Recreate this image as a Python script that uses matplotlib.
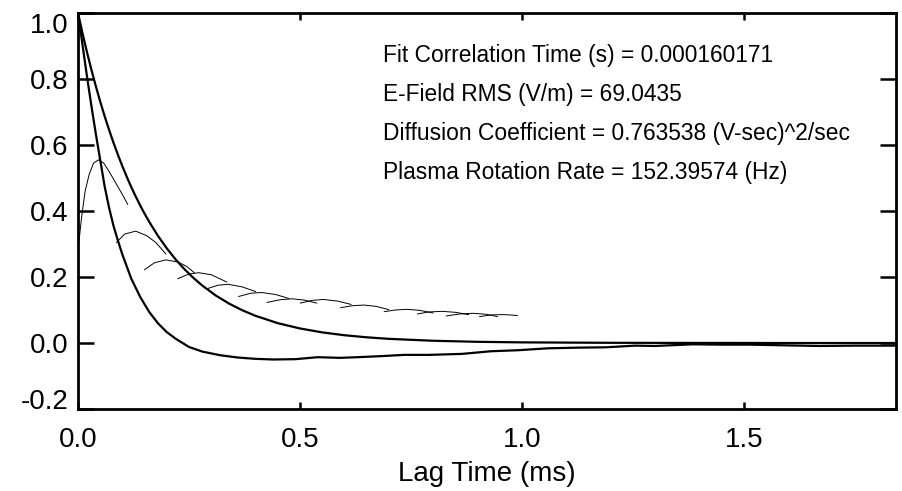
import matplotlib
matplotlib.use("Agg")
import matplotlib.pyplot as plt
from matplotlib.ticker import FixedLocator, FormatStrFormatter

plt.rcParams['font.family'] = ['Liberation Sans', 'DejaVu Sans']
plt.rcParams['axes.unicode_minus'] = False

# ---- data ----
# fitted exponential (thick upper curve)
fit_t = [0.0, 0.01, 0.02, 0.03, 0.04, 0.05, 0.06, 0.07, 0.08, 0.09, 0.10, 0.11, 0.12, 0.13, 0.14,
         0.15, 0.16, 0.18, 0.20, 0.22, 0.24, 0.26, 0.28, 0.31, 0.34, 0.37, 0.40, 0.45, 0.50,
         0.55, 0.60, 0.65, 0.70, 0.80, 0.90, 1.00, 1.20, 1.40, 1.60, 1.843]
fit_y = [1.0, 0.9394, 0.8826, 0.8291, 0.7790, 0.7318, 0.6875, 0.6459, 0.6068, 0.5700, 0.5356,
         0.5031, 0.4727, 0.4441, 0.4172, 0.3919, 0.3682, 0.3250, 0.2869, 0.2532, 0.2235,
         0.1973, 0.1741, 0.1443, 0.1197, 0.0993, 0.0823, 0.0602, 0.0441, 0.0322, 0.0236,
         0.0173, 0.0126, 0.0068, 0.0036, 0.0019, 0.0006, 0.0002, 0.0000, 0.0000]

# measured autocorrelation (thick lower curve)
acf_t = [0.0, 0.01, 0.02, 0.03, 0.04, 0.05, 0.06, 0.07, 0.08, 0.09, 0.10, 0.12, 0.14, 0.16,
         0.18, 0.20, 0.22, 0.25, 0.28, 0.32, 0.36, 0.40, 0.44, 0.49, 0.54, 0.59, 0.63, 0.68,
         0.735, 0.79, 0.865, 0.93, 0.99, 1.06, 1.13, 1.19, 1.255, 1.30, 1.385, 1.45, 1.515,
         1.59, 1.67, 1.75, 1.843]
acf_y = [1.0, 0.905, 0.81, 0.72, 0.635, 0.555, 0.475, 0.41, 0.355, 0.31, 0.268, 0.195, 0.14,
         0.095, 0.06, 0.033, 0.013, -0.012, -0.026, -0.037, -0.044, -0.048, -0.050, -0.049,
         -0.043, -0.045, -0.043, -0.040, -0.036, -0.036, -0.033, -0.025, -0.022, -0.016,
         -0.014, -0.013, -0.008, -0.009, -0.004, -0.005, -0.005, -0.007, -0.009, -0.008, -0.008]

# thin arcs
arcs_t = [
    [0.0, 0.008, 0.016, 0.025, 0.035, 0.046, 0.058, 0.07, 0.085, 0.10, 0.112],
    [0.087, 0.105, 0.13, 0.155, 0.175, 0.198],
    [0.150, 0.172, 0.198, 0.226, 0.245, 0.262],
    [0.225, 0.25, 0.272, 0.30, 0.335],
    [0.292, 0.315, 0.338, 0.37, 0.40],
    [0.362, 0.39, 0.414, 0.445, 0.475],
    [0.426, 0.455, 0.482, 0.51, 0.538],
    [0.501, 0.527, 0.553, 0.585, 0.615],
    [0.592, 0.618, 0.644, 0.672, 0.70],
    [0.69, 0.715, 0.742, 0.77, 0.80],
    [0.765, 0.79, 0.82, 0.85, 0.88],
    [0.83, 0.86, 0.89, 0.92, 0.945],
    [0.905, 0.93, 0.955, 0.975, 0.99],
]
arcs_y = [
    [0.28, 0.38, 0.46, 0.51, 0.545, 0.555, 0.545, 0.52, 0.485, 0.45, 0.42],
    [0.305, 0.330, 0.339, 0.325, 0.305, 0.27],
    [0.222, 0.243, 0.252, 0.245, 0.232, 0.213],
    [0.195, 0.209, 0.213, 0.207, 0.185],
    [0.165, 0.175, 0.178, 0.170, 0.156],
    [0.141, 0.151, 0.153, 0.147, 0.135],
    [0.123, 0.131, 0.134, 0.130, 0.121],
    [0.121, 0.129, 0.132, 0.127, 0.117],
    [0.107, 0.113, 0.115, 0.111, 0.101],
    [0.095, 0.100, 0.102, 0.099, 0.091],
    [0.088, 0.094, 0.096, 0.093, 0.086],
    [0.082, 0.088, 0.090, 0.087, 0.080],
    [0.080, 0.085, 0.086, 0.085, 0.083],
]

x_ticks = [0.0, 0.5, 1.0, 1.5]
y_ticks = [-0.2, 0.0, 0.2, 0.4, 0.6, 0.8, 1.0]
x_label = "Lag Time (ms)"
info_lines = [
    "Fit Correlation Time (s) = 0.000160171",
    "E-Field RMS (V/m) = 69.0435",
    "Diffusion Coefficient = 0.763538 (V-sec)^2/sec",
    "Plasma Rotation Rate = 152.39574 (Hz)",
]

# ---- figure ----
fig = plt.figure(figsize=(9.03, 4.91), dpi=100)
ax = fig.add_axes([78 / 903, 1 - 409 / 491, (896 - 78) / 903, (409 - 13) / 491])

ax.plot(fit_t, fit_y, color='black', lw=1.6)
ax.plot(acf_t, acf_y, color='black', lw=1.6)
for tt, yy in zip(arcs_t, arcs_y):
    ax.plot(tt, yy, color='black', lw=0.7)

ax.set_xlim(0, 1.843)
ax.set_ylim(-0.2, 1.0)
for s in ax.spines.values():
    s.set_linewidth(2.0)

ax.xaxis.set_major_locator(FixedLocator(x_ticks))
ax.yaxis.set_major_locator(FixedLocator(y_ticks))
ax.xaxis.set_major_formatter(FormatStrFormatter('%.1f'))
ax.yaxis.set_major_formatter(FormatStrFormatter('%.1f'))
ax.tick_params(axis='x', which='major', direction='in', length=5, width=1.8,
               top=True, bottom=True, labelsize=20, pad=13)
ax.tick_params(axis='y', which='major', direction='in', length=11.5, width=1.8,
               left=True, right=True, labelsize=20, pad=7)
ax.minorticks_off()

yt = ax.yaxis.get_major_ticks()
yt[0].label1.set_va('baseline')
yt[-1].label1.set_va('top')

ax.set_xlabel(x_label, fontsize=20, labelpad=6)

for i, line in enumerate(info_lines):
    ax.text(0.687, 0.852 - i * 0.118, line, fontsize=16.4, ha='left', va='baseline',
            transform=ax.transData)

fig.savefig('out.png', dpi=100)
